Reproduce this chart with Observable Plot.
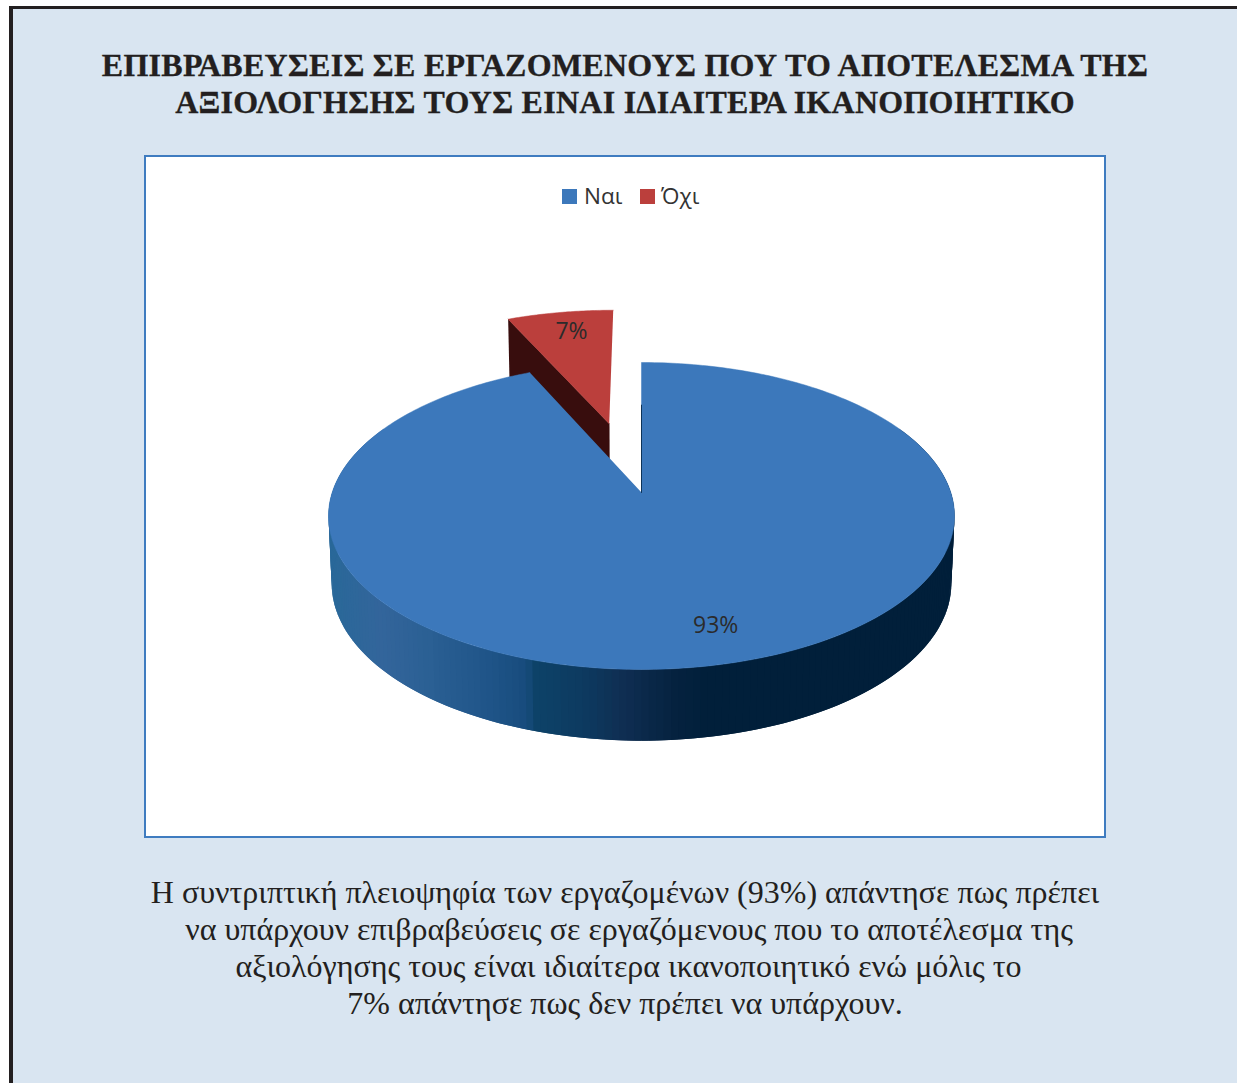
<!DOCTYPE html>
<html lang="el">
<head>
<meta charset="utf-8">
<script src="https://cdn.jsdelivr.net/npm/d3@7"></script>
<script src="https://cdn.jsdelivr.net/npm/@observablehq/plot@0.6"></script>
<style>
  html, body { margin: 0; padding: 0; background: #fff; overflow: hidden; }
  #page { position: relative; width: 1237px; height: 1083px; overflow: hidden; }
  #panel { position: absolute; left: 9px; top: 6px; width: 1300px; height: 1200px; box-sizing: border-box;
           background: #d9e5f1; border: 4px solid #231f20; border-width: 3.5px 4px; }
  #title { position: absolute; left: 0; top: 47px; width: 1250px; text-align: center; color: #231f20;
           font: bold 32px/37px "Liberation Serif", serif; letter-spacing: 0.26px; -webkit-text-stroke: 0.3px #231f20; }
  #box { position: absolute; left: 144px; top: 155px; width: 962px; height: 683px; box-sizing: border-box;
         background: #fff; border: 2px solid #3f7cc0; }
  #legend { position: absolute; left: 0; right: 0; top: 24px; height: 30px;
            font: 22.5px/30px "Open Sans", sans-serif; color: #333; }
  #legend span { position: absolute; top: 0; white-space: nowrap; }
  #legend i { position: absolute; top: 8px; width: 15px; height: 15px; }
  #plot { position: absolute; left: 0; top: 58px; }
  #plot svg { display: block; background: transparent; }
  #caption { position: absolute; left: 0; top: 874px; width: 1250px; color: #231f20;
             font: 32px/37px "Liberation Serif", serif; text-align: center; }
  #caption div { white-space: pre; }
</style>
</head>
<body>
<div id="page">
  <div id="panel"></div>
  <div id="title"></div>
  <div id="box"><div id="legend"></div><div id="plot"></div></div>
  <div id="caption"></div>
</div>
<script>
const categories = ["Ναι", "Όχι"];
const shares = [93.25, 6.75];
const shareLabels = ["93%", "7%"];
const titleLines = [
  "ΕΠΙΒΡΑΒΕΥΣΕΙΣ ΣΕ ΕΡΓΑΖΟΜΕΝΟΥΣ ΠΟΥ ΤΟ ΑΠΟΤΕΛΕΣΜΑ ΤΗΣ",
  "ΑΞΙΟΛΟΓΗΣΗΣ ΤΟΥΣ ΕΙΝΑΙ ΙΔΙΑΙΤΕΡΑ ΙΚΑΝΟΠΟΙΗΤΙΚΟ"
];
const captionLines = [
  "Η συντριπτική πλειοψηφία των εργαζομένων (93%) απάντησε πως πρέπει",
  "να υπάρχουν επιβραβεύσεις σε εργαζόμενους που το αποτέλεσμα της",
  "αξιολόγησης τους είναι ιδιαίτερα ικανοποιητικό ενώ μόλις το",
  "7% απάντησε πως δεν πρέπει να υπάρχουν."
];

// styling
const topColors = ["#3c78bb", "#bb3f3c"];
const redSideColor = "#380d0d";
const blueCutColor = "#0d3358";
const rimDomain = [-1, -0.85, -0.7, -0.5, -0.38, -0.365, -0.2, -0.07, 0.1, 0.2, 1];
const rimRange = ["#2a6899", "#33659b", "#2b6094", "#1f5488", "#174b7c", "#0d4369", "#0d3a60", "#0f2e52", "#05223f", "#011f3a", "#011f3a"];

// 3D view of the pie
const perspective = 0.153, explode = 0.505, explodeSideways = -0.006;
const depthMid = 0.445, depthTilt = 0.03, bottomShrink = 0.99;
const project = (u, v, z = 0) => {
  const w = 1 + perspective * v;
  return { x: (u / w) * (z ? bottomShrink : 1), y: v / w - z * (depthMid - depthTilt * v) };
};
const TAU = 2 * Math.PI;
const fractions = shares.map((s) => s / d3.sum(shares));
// Blue starts at 12 o'clock clockwise; the red one closes the circle
const blueEnd = fractions[0] * TAU;
const redStart = blueEnd, redEnd = TAU;
const redMid = (redStart + redEnd) / 2, blueMid = blueEnd / 2;
const offset = { u: explode * Math.sin(redMid) + explodeSideways, v: explode * Math.cos(redMid) };
const pt = (a, r = 1, o = { u: 0, v: 0 }, z = 0) => project(o.u + r * Math.sin(a), o.v + r * Math.cos(a), z);
const sweep = (a0, a1, n) => d3.range(n + 1).map((i) => a0 + ((a1 - a0) * i) / n);

const blueTop = [pt(0, 0), ...sweep(0, blueEnd, 360).map((a) => pt(a))];
const redTop = [pt(redStart, 0, offset), ...sweep(redStart, redEnd, 40).map((a) => pt(a, 1, offset))];
const redCut = [pt(redStart, 1, offset), pt(redStart, 0, offset), pt(redStart, 0, offset, 1), pt(redStart, 1, offset, 1)];
const blueCut = [pt(0, 0.64), pt(0, 0)];

const rimAngles = sweep(Math.PI * 0.35, Math.PI * 1.65, 200);
const rim = rimAngles.slice(0, -2).flatMap((a, i) => {
  const b = rimAngles[i + 2];   // each piece overlaps its neighbour to hide seams
  const corners = [pt(a), pt(b), pt(b, 1, undefined, 1), pt(a, 1, undefined, 1)];
  return corners.map((c) => ({ ...c, id: i, tone: pt(rimAngles[i + 1]).x }));
});

const blueLabel = [{ ...pt(blueMid, 0.8), text: shareLabels[0] }];
const redLabel = [{ ...pt(redMid, 0.83, offset), text: shareLabels[1] }];

d3.select("#title").selectAll("div").data(titleLines).join("div").text((d) => d);
d3.select("#caption").selectAll("div").data(captionLines).join("div")
  .style("margin-left", (d, i) => [0, 8, 7, 0][i] + "px").text((d) => d);

const legendSpots = [
  { swatch: 416, label: 438 },
  { swatch: 494, label: 515 }
];
const legend = d3.select("#legend");
categories.forEach((c, i) => {
  legend.append("i").style("left", legendSpots[i].swatch + "px").style("background", topColors[i]);
  legend.append("span").style("left", legendSpots[i].label + "px").text(c);
});

const labelFont = { fontFamily: "Open Sans, sans-serif", fontSize: 23, fill: "#2b2b2b" };
const chart = Plot.plot({
  width: 958,
  height: 621,
  margin: 0,
  style: { background: "transparent", overflow: "visible" },
  x: { domain: [-1, 1], range: [185.7, 804.3], axis: null },
  y: { domain: [-1, 1], range: [426.9, 127.1], axis: null },
  color: { type: "linear", domain: rimDomain, range: rimRange, interpolate: "rgb" },
  marks: [
    Plot.line(redCut, { x: "x", y: "y", fill: redSideColor, stroke: redSideColor, strokeWidth: 0.5 }),
    Plot.line(redTop, { x: "x", y: "y", fill: topColors[1], stroke: topColors[1], strokeWidth: 0.5 }),
    Plot.line(rim, { x: "x", y: "y", z: "id", fill: "tone", stroke: "none" }),
    Plot.line(blueTop, { x: "x", y: "y", fill: topColors[0], stroke: topColors[0], strokeWidth: 0.5 }),
    Plot.line(blueCut, { x: "x", y: "y", stroke: blueCutColor, strokeWidth: 1 }),
    Plot.text(blueLabel, { x: "x", y: "y", text: "text", dx: 15, dy: 0, ...labelFont }),
    Plot.text(redLabel, { x: "x", y: "y", text: "text", dx: 4, dy: 2, ...labelFont })
  ]
});
document.getElementById("plot").append(chart);
</script>
</body>
</html>
